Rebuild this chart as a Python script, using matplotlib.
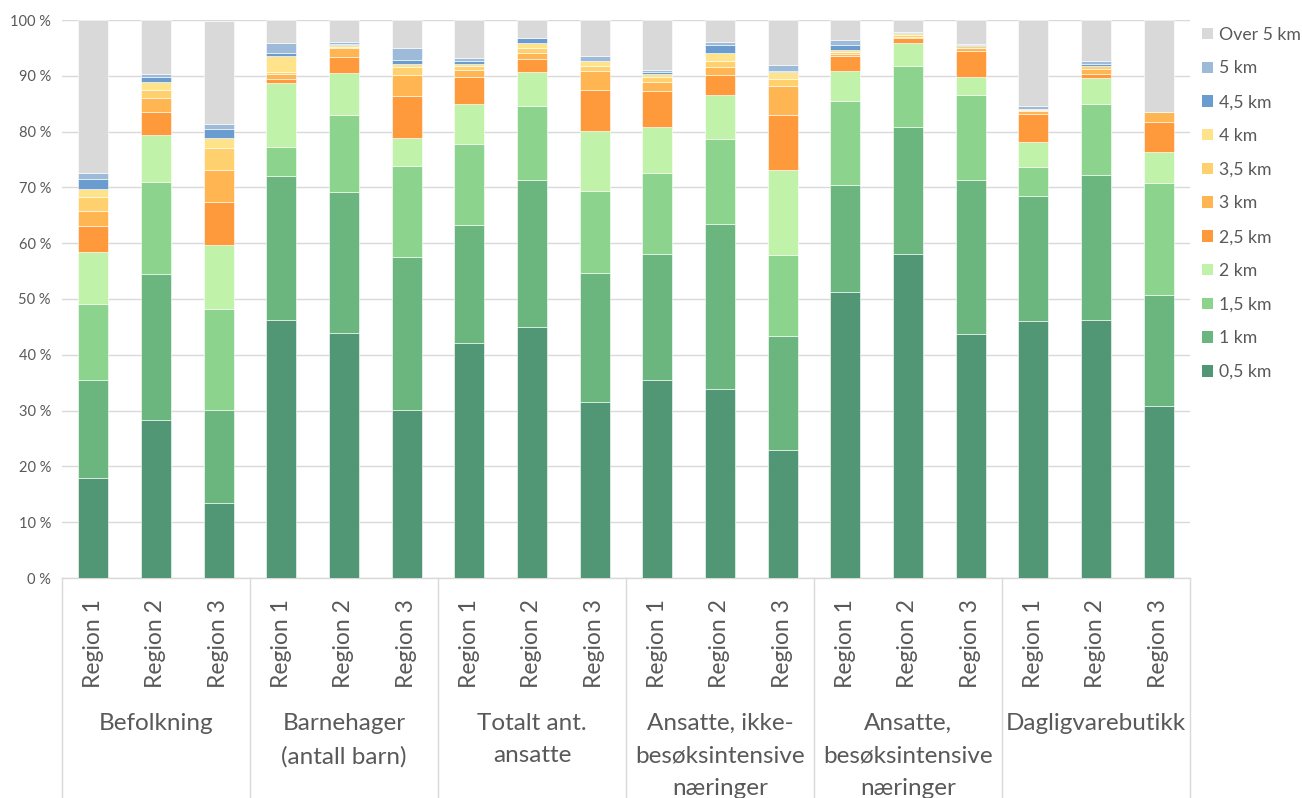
import matplotlib
matplotlib.use("Agg")
import matplotlib.pyplot as plt
from matplotlib.patches import Patch
from matplotlib.lines import Line2D
import matplotlib.transforms as mtransforms

plt.rcParams['font.family'] = ['Lato', 'DejaVu Sans']

groups = ["Befolkning", "Barnehager\n(antall barn)", "Totalt ant.\nansatte",
          "Ansatte, ikke-\nbesøksintensive\nnæringer", "Ansatte,\nbesøksintensive\nnæringer",
          "Dagligvarebutikk"]
regions = ["Region 1", "Region 2", "Region 3"]

series_names = ["0,5 km", "1 km", "1,5 km", "2 km", "2,5 km", "3 km", "3,5 km",
                "4 km", "4,5 km", "5 km", "Over 5 km"]

km05 = [18.0, 28.3, 13.4, 46.2, 43.9, 30.1, 42.1, 45.0, 31.5, 35.5, 33.9, 22.9, 51.3, 58.0, 43.7, 46.1, 46.2, 30.8]
km10 = [17.5, 26.2, 16.7, 25.9, 25.3, 27.4, 21.2, 26.3, 23.1, 22.5, 29.6, 20.5, 19.2, 22.9, 27.6, 22.4, 26.0, 20.0]
km15 = [13.6, 16.5, 18.1, 5.1, 13.7, 16.4, 14.5, 13.3, 14.8, 14.5, 15.2, 14.5, 14.9, 10.9, 15.3, 5.2, 12.7, 20.0]
km20 = [9.3, 8.4, 11.4, 11.5, 7.6, 4.9, 7.1, 6.1, 10.7, 8.3, 7.8, 15.3, 5.5, 4.0, 3.2, 4.4, 4.7, 5.5]
km25 = [4.6, 4.2, 7.7, 0.8, 2.8, 7.5, 4.9, 2.4, 7.4, 6.4, 3.6, 9.7, 2.6, 0.9, 4.6, 5.1, 0.8, 5.5]
km30 = [2.8, 2.5, 5.8, 0.9, 1.6, 3.9, 1.3, 0.9, 3.4, 1.7, 1.5, 5.2, 0.4, 0.3, 0.5, 0.5, 0.9, 1.8]
km35 = [2.4, 1.4, 3.9, 0.2, 0.3, 1.4, 0.7, 0.9, 0.9, 0.9, 1.1, 1.4, 0.4, 0.4, 0.4, 0.2, 0.4, 0.0]
km40 = [1.5, 1.4, 1.8, 2.9, 0.4, 0.6, 0.4, 0.9, 0.9, 0.6, 1.3, 1.1, 0.3, 0.3, 0.1, 0.1, 0.1, 0.0]
km45 = [1.8, 0.9, 1.6, 0.5, 0.1, 0.7, 0.5, 0.9, 0.0, 0.3, 1.6, 0.2, 0.9, 0.1, 0.2, 0.1, 0.3, 0.0]
km50 = [1.0, 0.6, 0.9, 1.8, 0.3, 2.0, 0.5, 0.1, 0.8, 0.3, 0.4, 1.1, 0.9, 0.1, 0.1, 0.5, 0.6, 0.0]
over5 = [27.5, 9.6, 18.6, 4.2, 4.0, 5.1, 6.8, 3.2, 6.5, 9.0, 4.0, 8.1, 3.6, 2.1, 4.3, 15.4, 7.3, 16.4]

series = [km05, km10, km15, km20, km25, km30, km35, km40, km45, km50, over5]
colors = ["#519675", "#6BB57F", "#8CD38E", "#C0F2AA", "#FF9A3C", "#FFB552", "#FFD06E",
          "#FFE38A", "#6A9CD0", "#9DBBD8", "#D9D9D9"]

W, H = 1302, 798
fig = plt.figure(figsize=(W / 100, H / 100), dpi=100)
ax_left, ax_right, ax_top, ax_bot = 62, 1190, 20, 578
ax = fig.add_axes([ax_left / W, (H - ax_bot) / H, (ax_right - ax_left) / W, (ax_bot - ax_top) / H])

n = len(km05)
x = list(range(n))
bottom = [0.0] * n
for vals, col, name in zip(series, colors, series_names):
    ax.bar(x, vals, width=0.48, bottom=bottom, color=col, edgecolor="white",
           linewidth=0.4, label=name, zorder=3)
    bottom = [b + v for b, v in zip(bottom, vals)]

ax.set_xlim(-0.5, n - 0.5)
ax.set_ylim(0, 100)
ax.set_yticks(range(0, 101, 10))
ax.set_yticklabels([f"{v} %" for v in range(0, 101, 10)], color="#595959", fontsize=10.5)
ax.yaxis.grid(True, color="#D9D9D9", linewidth=1.0, zorder=0)
ax.set_axisbelow(True)
for s in ["left", "right", "top"]:
    ax.spines[s].set_visible(False)
ax.spines["bottom"].set_color("#D9D9D9")
ax.spines["bottom"].set_linewidth(1.0)
ax.tick_params(axis="y", length=0, pad=8)

ax.set_xticks(x)
ax.set_xticklabels(regions * len(groups), rotation=90, fontsize=16.5, color="#595959")
ax.tick_params(axis="x", length=0, pad=15)

trans = mtransforms.blended_transform_factory(ax.transData, ax.transAxes)
px = 1.0 / (ax_bot - ax_top)
for gi, g in enumerate(groups):
    ax.text(gi * 3 + 1, -(713 - ax_bot) * px, g, transform=trans, ha="center", va="top",
            fontsize=17.5, color="#595959", linespacing=1.67)
for gi in range(len(groups) + 1):
    ax.add_line(Line2D([gi * 3 - 0.5, gi * 3 - 0.5], [0, -(H - ax_bot) * px], transform=trans,
                       color="#D9D9D9", linewidth=1.0, clip_on=False))

handles = [Patch(facecolor=c, edgecolor="none") for c in colors][::-1]
labels = series_names[::-1]
leg = ax.legend(handles, labels, loc="upper left", bbox_to_anchor=(1.0, 1.01), frameon=False,
                fontsize=12.7, handlelength=0.62, handleheight=0.62, handletextpad=0.3,
                labelspacing=1.005, borderaxespad=0.3)
for t in leg.get_texts():
    t.set_color("#595959")

fig.savefig("out.png", dpi=100)
